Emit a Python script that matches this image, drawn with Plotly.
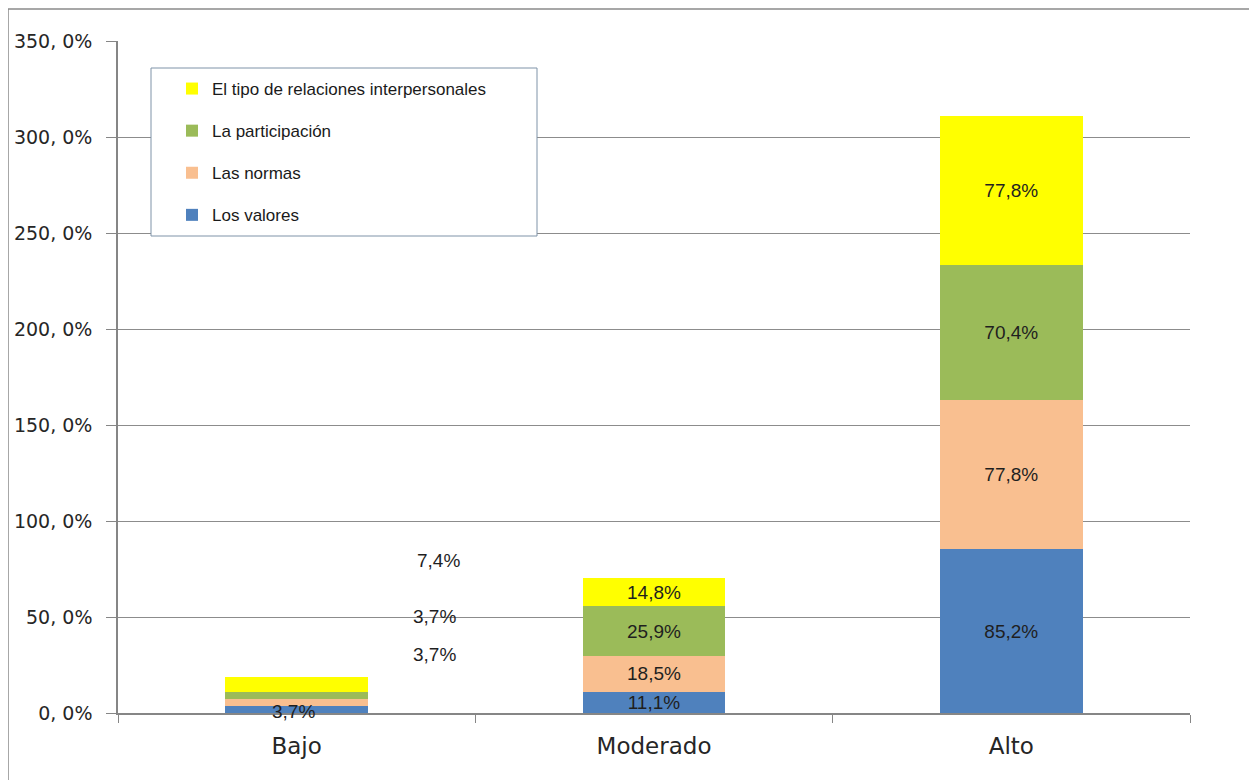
import plotly.graph_objects as go

categories = ["Bajo", "Moderado", "Alto"]
series_names = ["Los valores", "Las normas", "La participación", "El tipo de relaciones interpersonales"]
los_valores = [3.7, 11.1, 85.2]
las_normas = [3.7, 18.5, 77.8]
la_participacion = [3.7, 25.9, 70.4]
tipo_relaciones = [7.4, 14.8, 77.8]
series_colors = ["#4F81BD", "#F9BF90", "#9BBB59", "#FFFF00"]
y_tick_vals = [0, 50, 100, 150, 200, 250, 300, 350]
y_tick_text = ["0, 0%", "50, 0%", "100, 0%", "150, 0%", "200, 0%", "250, 0%", "300, 0%", "350, 0%"]

# Bajo labels placed by hand in the original (series index, x offset in categories, y position)
bajo_label_pos = [(0, -0.01, 0.6), (3, 0.396, 79.5), (2, 0.385, 50.5), (1, 0.385, 30.3)]

def fmt(v):
    return f"{v:.1f}".replace(".", ",") + "%"

all_series = [los_valores, las_normas, la_participacion, tipo_relaciones]
moved_idx = {m[0] for m in bajo_label_pos}
LABEL_FONT = dict(family="Liberation Sans, Arial, sans-serif", size=19, color="#1f1f1f")

fig = go.Figure()
n = len(series_names)
for i, (name, vals, col) in enumerate(zip(series_names, all_series, series_colors)):
    texts = [fmt(v) for v in vals]
    if i in moved_idx:
        texts[0] = ""
    fig.add_trace(go.Bar(
        x=categories, y=vals, name=name, marker=dict(color=col, line=dict(width=0)),
        text=texts, textposition="inside", insidetextanchor="middle", textangle=0,
        textfont=LABEL_FONT,
        width=0.4, legendgroup=f"g{i}", legendrank=n - i, hoverinfo="skip",
    ))

annotations = []
for idx, xoff, ypos in bajo_label_pos:
    annotations.append(dict(
        x=xoff, y=ypos, xref="x", yref="y", text=fmt(all_series[idx][0]), showarrow=False,
        font=LABEL_FONT, xanchor="center", yanchor="middle",
    ))

OFF = 8  # page body margin
W, H = 1257 - OFF, 780 - OFF
L, T = 118 - OFF, 41 - OFF
R = W - (1190 - OFF)
B = H - (713 - OFF)
pw, ph = W - L - R, H - T - B

def px_x(p):
    return (p - OFF - L) / pw

def px_y(p):
    return (H - B - (p - OFF)) / ph

shapes = [
    dict(type="rect", xref="paper", yref="paper", x0=px_x(8), x1=px_x(1251), y0=px_y(790), y1=px_y(9),
         line=dict(color="#8a8a8a", width=1.5), fillcolor="rgba(0,0,0,0)", layer="below"),
    dict(type="rect", xref="paper", yref="paper", x0=px_x(151), x1=px_x(537), y0=px_y(236), y1=px_y(68),
         line=dict(color="#7f93a8", width=1), fillcolor="white", layer="above"),
]

fig.update_layout(
    width=W, height=H,
    margin=dict(l=L, r=R, t=T, b=B, pad=0, autoexpand=False),
    paper_bgcolor="white", plot_bgcolor="white",
    barmode="stack",
    uniformtext=dict(minsize=19, mode="show"),
    showlegend=True,
    legend=dict(
        x=px_x(172), y=px_y(71), xanchor="left", yanchor="top",
        traceorder="grouped", tracegroupgap=17,
        bgcolor="rgba(0,0,0,0)", borderwidth=0,
        font=dict(family="Liberation Sans, Arial, sans-serif", size=17, color="#1a1a1a"),
    ),
    xaxis=dict(
        range=[-0.5, 2.5], showgrid=False, showline=True, linecolor="#868686", linewidth=1.5,
        ticks="outside", tickson="boundaries", ticklen=8, tickcolor="#868686",
        ticklabelstandoff=12, automargin=False,
        tickfont=dict(family="DejaVu Sans, Verdana, sans-serif", size=23, color="#262626"),
    ),
    yaxis=dict(
        range=[0, 350], tickvals=y_tick_vals, ticktext=y_tick_text,
        showgrid=True, gridcolor="#8c8c8c", gridwidth=1.2,
        showline=True, linecolor="#868686", linewidth=1.5,
        ticks="outside", ticklen=10, tickcolor="#868686",
        ticklabelstandoff=10, automargin=False,
        tickfont=dict(family="DejaVu Sans, Verdana, sans-serif", size=19, color="#262626"),
        zeroline=False,
    ),
    shapes=shapes,
    annotations=annotations,
)

fig.write_html("out.html")
